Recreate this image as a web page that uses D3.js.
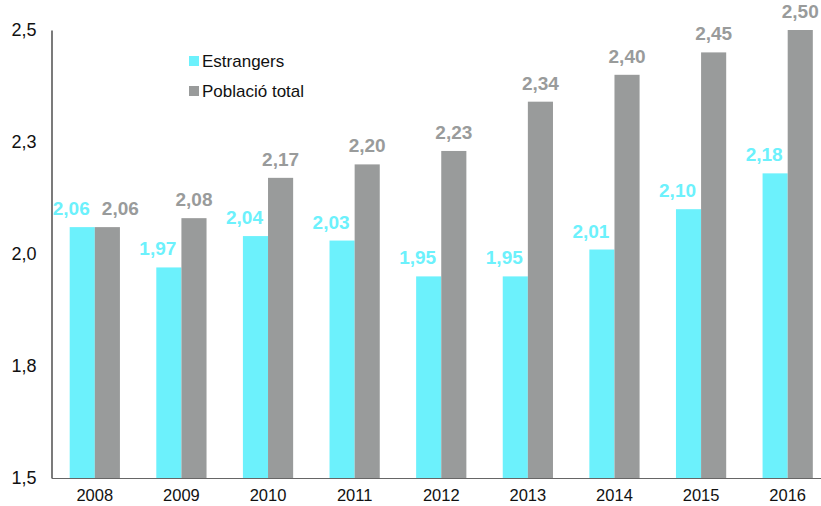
<!DOCTYPE html>
<html>
<head>
<meta charset="utf-8">
<script src="https://d3js.org/d3.v7.min.js"></script>
<style>
  body { margin: 0; background: #fff; }
  svg { display: block; font-family: "Liberation Sans", Arial, sans-serif; }
</style>
</head>
<body>
<div id="chart"></div>
<script>
// data
var years = ["2008", "2009", "2010", "2011", "2012", "2013", "2014", "2015", "2016"];
var estrangers = [2.06, 1.97, 2.04, 2.03, 1.95, 1.95, 2.01, 2.10, 2.18];
var poblacio = [2.06, 2.08, 2.17, 2.20, 2.23, 2.34, 2.40, 2.45, 2.50];
var seriesNames = ["Estrangers", "Població total"];
var yTicks = [1.5, 1.75, 2.0, 2.25, 2.5];
var yTickLabels = ["1,5", "1,8", "2,0", "2,3", "2,5"];

var colors = ["#6cf1fc", "#999b9b"];

var W = 821, H = 506;
var svg = d3.select("#chart").append("svg")
  .attr("width", W).attr("height", H);

// plot area runs off the right edge, like the original
var x = d3.scaleBand().domain(years).range([51.5, 831]).paddingInner(0.42).paddingOuter(0.21);
var xs = d3.scaleBand().domain([0, 1]).range([0, x.bandwidth()]);
var y = d3.scaleLinear().domain([1.5, 2.5]).range([478, 30]);

var fmt = function (v) { return d3.format(".2f")(v).replace(".", ","); };

// bars
var series = [estrangers, poblacio];
series.forEach(function (vals, s) {
  svg.append("g").selectAll("rect")
    .data(vals)
    .enter().append("rect")
    .attr("x", function (d, i) { return x(years[i]) + xs(s); })
    .attr("y", function (d) { return y(d); })
    .attr("width", xs.bandwidth())
    .attr("height", function (d) { return y(1.5) - y(d); })
    .style("fill", colors[s]);
});

// value labels
series.forEach(function (vals, s) {
  svg.append("g").selectAll("text")
    .data(vals)
    .enter().append("text")
    .attr("x", function (d, i) {
      var cx = x(years[i]) + xs(s) + xs.bandwidth() / 2;
      if (s == 0) return cx - 11;
      // push the grey label right if it would hit the cyan one
      var clash = Math.abs(y(estrangers[i]) - y(d)) < 16;
      return clash ? cx + 13 : cx;
    })
    .attr("y", function (d) { return y(d) - 12; })
    .attr("text-anchor", "middle")
    .style("font-size", "19px")
    .style("font-weight", "bold")
    .style("fill", colors[s])
    .text(fmt);
});

// axes
var yAxis = d3.axisLeft(y).tickValues(yTicks)
  .tickFormat(function (d, i) { return yTickLabels[i]; })
  .tickSize(0).tickPadding(15);
var gy = svg.append("g").attr("transform", "translate(51.5,0)").call(yAxis);
gy.select(".domain").attr("stroke", "#222").attr("stroke-width", 1.2);
gy.selectAll("text").style("font-size", "18px").style("fill", "#111")
  .style("font-family", "'Liberation Sans', Arial, sans-serif");

var xAxis = d3.axisBottom(x).tickSize(0).tickPadding(11);
var gx = svg.append("g").attr("transform", "translate(0,478)").call(xAxis);
gx.select(".domain").attr("stroke", "#666").attr("stroke-width", 1.2);
gx.selectAll("text").style("font-size", "16.5px").style("fill", "#111")
  .style("font-family", "'Liberation Sans', Arial, sans-serif");

// legend
var legend = svg.append("g").attr("transform", "translate(189,56)");
seriesNames.forEach(function (name, i) {
  var row = legend.append("g").attr("transform", "translate(0," + (i * 30) + ")");
  row.append("rect").attr("width", 10).attr("height", 10).style("fill", colors[i]);
  row.append("text").attr("x", 13).attr("y", 11)
    .style("font-size", "17px").style("fill", "#111")
    .text(name);
});
</script>
</body>
</html>
